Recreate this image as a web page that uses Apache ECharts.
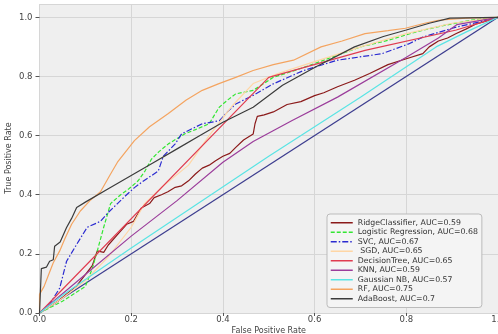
<!DOCTYPE html>
<html>
<head>
<meta charset="utf-8">
<script src="https://cdn.jsdelivr.net/npm/echarts@6/dist/echarts.min.js"></script>
<style>
  html, body { margin: 0; padding: 0; background: #fff; }
  #chart { width: 498px; height: 334px; }
</style>
</head>
<body>
<div id="chart"></div>
<script>
// ROC points [fpr, tpr]
const ridge = [[0,0],[0.02,0.02],[0.04,0.04],[0.06,0.065],[0.08,0.09],[0.1,0.13],[0.115,0.16],[0.126,0.21],[0.14,0.205],[0.15,0.23],[0.17,0.265],[0.19,0.3],[0.205,0.31],[0.222,0.355],[0.24,0.37],[0.25,0.39],[0.266,0.4],[0.28,0.41],[0.296,0.425],[0.31,0.43],[0.325,0.447],[0.34,0.47],[0.355,0.49],[0.37,0.5],[0.384,0.515],[0.4,0.53],[0.415,0.54],[0.428,0.56],[0.445,0.585],[0.466,0.605],[0.47,0.64],[0.475,0.665],[0.49,0.67],[0.51,0.68],[0.54,0.705],[0.57,0.715],[0.6,0.735],[0.62,0.745],[0.65,0.765],[0.687,0.787],[0.72,0.81],[0.76,0.84],[0.8,0.86],[0.836,0.877],[0.85,0.9],[0.87,0.92],[0.89,0.93],[0.909,0.945],[0.93,0.96],[0.953,0.978],[0.97,0.985],[1,1]]
const logreg = [[0,0],[0.05,0.04],[0.1,0.09],[0.115,0.15],[0.126,0.21],[0.14,0.29],[0.155,0.37],[0.177,0.4],[0.195,0.42],[0.215,0.447],[0.23,0.48],[0.244,0.52],[0.26,0.545],[0.281,0.572],[0.3,0.59],[0.317,0.606],[0.34,0.62],[0.37,0.64],[0.392,0.696],[0.41,0.72],[0.428,0.741],[0.466,0.753],[0.51,0.797],[0.576,0.83],[0.65,0.872],[0.7,0.9],[0.76,0.922],[0.82,0.95],[0.865,0.967],[0.94,0.99],[1,1]]
const svc = [[0,0],[0.022,0.03],[0.044,0.084],[0.059,0.175],[0.081,0.232],[0.104,0.29],[0.133,0.31],[0.15,0.34],[0.17,0.37],[0.19,0.4],[0.207,0.424],[0.23,0.45],[0.259,0.48],[0.27,0.53],[0.296,0.572],[0.31,0.606],[0.355,0.64],[0.392,0.65],[0.41,0.68],[0.428,0.707],[0.466,0.736],[0.51,0.775],[0.576,0.82],[0.65,0.855],[0.747,0.877],[0.805,0.91],[0.836,0.933],[0.909,0.967],[0.976,0.99],[1,1]]
const sgd = [[0,0],[0.05,0.05],[0.1,0.11],[0.15,0.19],[0.2,0.29],[0.229,0.37],[0.27,0.43],[0.325,0.5],[0.37,0.6],[0.42,0.7],[0.466,0.776],[0.52,0.81],[0.6,0.85],[0.7,0.9],[0.8,0.945],[0.9,0.98],[1,1]]
const dtree = [[0,0],[0.5,0.797],[0.71,0.888],[0.909,0.957],[1,1]]
const knn = [[0,0],[0.1,0.13],[0.2,0.26],[0.3,0.38],[0.4,0.51],[0.466,0.58],[0.55,0.65],[0.65,0.73],[0.8,0.865],[0.87,0.93],[0.91,0.975],[1,1]]
const gnb = [[0,0],[0.05,0.06],[0.2,0.22],[0.5,0.53],[0.7,0.73],[0.865,0.9],[0.93,0.95],[1,1]]
const rf = [[0,0],[0,0.063],[0.01,0.09],[0.02,0.13],[0.03,0.17],[0.044,0.21],[0.055,0.25],[0.07,0.3],[0.089,0.345],[0.11,0.38],[0.133,0.41],[0.155,0.47],[0.17,0.51],[0.207,0.583],[0.24,0.63],[0.281,0.675],[0.32,0.72],[0.355,0.753],[0.39,0.775],[0.428,0.797],[0.466,0.82],[0.51,0.84],[0.554,0.855],[0.614,0.9],[0.66,0.92],[0.71,0.945],[0.76,0.955],[0.798,0.963],[0.84,0.98],[0.87,0.99],[0.93,0.997],[1,1]]
const ada = [[0,0],[0.002,0.075],[0.004,0.15],[0.015,0.155],[0.022,0.175],[0.03,0.18],[0.033,0.226],[0.045,0.24],[0.059,0.289],[0.07,0.32],[0.081,0.357],[0.1,0.375],[0.15,0.42],[0.2,0.465],[0.25,0.51],[0.3,0.555],[0.35,0.6],[0.4,0.645],[0.466,0.696],[0.53,0.77],[0.6,0.83],[0.687,0.9],[0.75,0.935],[0.8,0.957],[0.85,0.98],[0.895,0.997],[1,1]]
const chance = [[0,0],[1,1]]

const names = ['RidgeClassifier, AUC=0.59', 'Logistic Regression, AUC=0.68', 'SVC, AUC=0.67', ' SGD, AUC=0.65',
  'DecisionTree, AUC=0.65', 'KNN, AUC=0.59', 'Gaussian NB, AUC=0.57', 'RF, AUC=0.75', 'AdaBoost, AUC=0.7']
const ticks = [0, 0.2, 0.4, 0.6, 0.8, 1.0]

const font = 'DejaVu Sans'

function line(name, data, color, type) {
  return {
    name: name,
    type: 'line',
    data: data,
    symbol: 'none',
    silent: true,
    lineStyle: { width: 1.2, color: color, type: type || 'solid' },
    itemStyle: { color: color }
  }
}

const chart = echarts.init(document.getElementById('chart'))
chart.setOption({
  animation: false,
  backgroundColor: '#fff',
  grid: {
    // box includes the tick labels, so the plot itself lands at ~40..491 x 4..312
    left: 19, right: 0, top: 4, bottom: 10,
    containLabel: true,
    show: true, backgroundColor: '#efefef', borderWidth: 0
  },
  // y title drawn by hand
  graphic: [{
    type: 'text',
    x: 9, y: 158,
    rotation: Math.PI / 2,
    style: { text: 'True Positive Rate', fontFamily: font, fontSize: 8, fill: '#444', align: 'center', verticalAlign: 'middle' }
  }],
  legend: {
    data: names,
    orient: 'vertical',
    left: 327, top: 214,
    padding: [4, 4, 4, 3],
    itemGap: 0,
    itemWidth: 22,
    itemHeight: 9.5,
    backgroundColor: '#f4f4f4',
    borderColor: '#bbb',
    borderWidth: 1,
    borderRadius: 3,
    itemStyle: { opacity: 0 },   // hide the legend symbol, keep the line
    lineStyle: { width: 1.5 },
    textStyle: { fontFamily: font, fontSize: 7.8, lineHeight: 9.5, color: '#333' }
  },
  xAxis: {
    type: 'value', min: 0, max: 1, interval: 0.2,
    name: 'False Positive Rate', nameLocation: 'middle', nameGap: 14,
    nameTextStyle: { fontFamily: font, fontSize: 8, color: '#444' },
    axisLine: { show: false },
    axisTick: { show: true, length: 3, lineStyle: { color: '#555' } },
    axisLabel: { margin: 2, fontFamily: font, fontSize: 8.5, color: '#444',
      formatter: v => ticks.includes(+v.toFixed(3)) ? v.toFixed(1) : '' },
    splitLine: { lineStyle: { color: '#d6d6d6', width: 1 } }
  },
  yAxis: {
    type: 'value', min: 0, max: 1.045, interval: 0.2,
    axisLine: { show: false },
    axisTick: { show: true, length: 4, lineStyle: { color: '#555' } },
    axisLabel: { show: true, margin: 7, fontFamily: font, fontSize: 8.5, color: '#444', showMaxLabel: false,
      formatter: v => ticks.includes(+v.toFixed(3)) ? v.toFixed(1) : '' },
    splitLine: { lineStyle: { color: '#d6d6d6', width: 1 } }
  },
  series: [
    line('chance', chance, '#3d3d8f'),
    line(names[0], ridge, '#8b1a1a'),
    line(names[1], logreg, '#33e633', [4, 2]),
    line(names[2], svc, '#2b2bd0', [6, 2, 1.5, 2]),
    line(names[3], sgd, '#ffd6a5'),
    line(names[4], dtree, '#e03c50'),
    line(names[5], knn, '#9b3d9b'),
    line(names[6], gnb, '#5ae4e4'),
    line(names[7], rf, '#f4a460'),
    line(names[8], ada, '#3c3c3c')
  ]
})
</script>
</body>
</html>
